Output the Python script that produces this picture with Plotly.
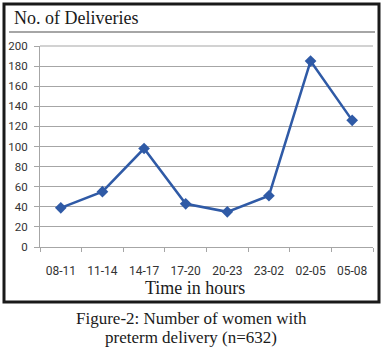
import plotly.graph_objects as go

categories = ["08-11", "11-14", "14-17", "17-20", "20-23", "23-02", "02-05", "05-08"]
deliveries = [39, 55, 98, 43, 35, 51, 185, 126]
y_ticks = [0, 20, 40, 60, 80, 100, 120, 140, 160, 180, 200]

W, H = 382, 351
L, R, T, B = 40, 9, 46, 104
PW, PH = W - L - R, H - T - B

def fx(px):
    return (px - L) / PW

def fy(py):
    return (H - B - py) / PH

fig = go.Figure()
fig.add_trace(go.Scatter(
    x=categories, y=deliveries, mode="lines+markers",
    line=dict(color="#2f5aa6", width=2.5),
    marker=dict(symbol="diamond", size=9, color="#2f5aa6"),
    showlegend=False, cliponaxis=False,
))

serif = "Liberation Serif, DejaVu Serif, serif"
tick_font = dict(family="Liberation Sans Narrow, Roboto, sans-serif", size=12, color="#333333")
fig.update_layout(
    width=W, height=H,
    margin=dict(l=L, r=R, t=T, b=B),
    paper_bgcolor="white", plot_bgcolor="white",
    xaxis=dict(
        type="category", showgrid=False, showline=True, linecolor="#a6a6a6", linewidth=1,
        ticks="outside", tickson="boundaries", ticklen=4, tickcolor="#a6a6a6",
        tickfont=tick_font, ticklabelstandoff=13, automargin=False,
        range=[-0.5, 7.5],
    ),
    yaxis=dict(
        range=[0, 200], tickvals=y_ticks, showgrid=True, gridcolor="#a6a6a6", gridwidth=1.2,
        showline=True, linecolor="#a6a6a6", linewidth=1, zeroline=False,
        ticks="outside", ticklen=5, tickcolor="#a6a6a6",
        tickfont=dict(family="Liberation Sans Narrow, Roboto, sans-serif", size=11.5, color="#333333"),
        ticklabelstandoff=4, automargin=False,
    ),
    shapes=[
        dict(type="rect", xref="paper", yref="paper", x0=fx(4), x1=fx(379), y0=fy(4), y1=fy(302),
             line=dict(color="#1a1a1a", width=3), layer="below"),
        dict(type="line", xref="paper", yref="paper", x0=fx(9), x1=fx(375), y0=fy(32), y1=fy(32),
             line=dict(color="#a6a6a6", width=2)),
        dict(type="line", xref="paper", yref="paper", x0=0, x1=1, y0=1, y1=1,
             line=dict(color="#a6a6a6", width=1.2)),
    ],
    annotations=[
        dict(text="No. of Deliveries", xref="paper", yref="paper", x=fx(12), y=fy(18),
             xanchor="left", yanchor="middle", showarrow=False,
             font=dict(family=serif, size=18, color="#1a1a1a")),
        dict(text="Time in hours", xref="paper", yref="paper", x=fx(195), y=fy(288),
             xanchor="center", yanchor="middle", showarrow=False,
             font=dict(family=serif, size=18, color="#1a1a1a")),
        dict(text="Figure-2: Number of women with", xref="paper", yref="paper", x=fx(191), y=fy(318),
             xanchor="center", yanchor="middle", showarrow=False,
             font=dict(family=serif, size=17, color="#1a1a1a")),
        dict(text="preterm delivery (n=632)", xref="paper", yref="paper", x=fx(191), y=fy(337),
             xanchor="center", yanchor="middle", showarrow=False,
             font=dict(family=serif, size=17, color="#1a1a1a")),
    ],
)

fig.write_html("out.html")
